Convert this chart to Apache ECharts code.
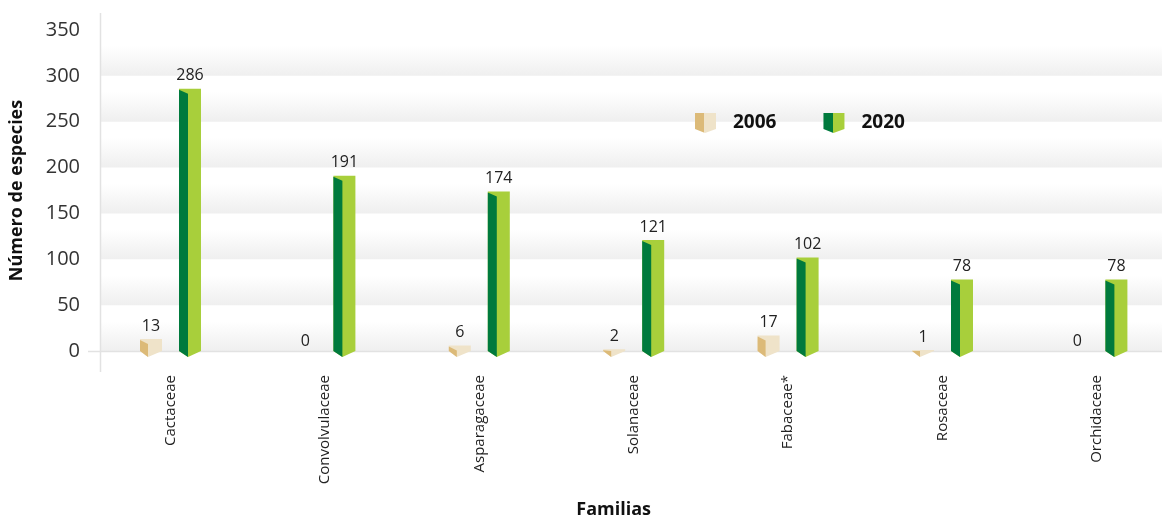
<!DOCTYPE html>
<html>
<head>
<meta charset="utf-8">
<script src="https://cdn.jsdelivr.net/npm/echarts@6/dist/echarts.min.js"></script>
<style>
html,body{margin:0;padding:0;background:#fff;}
#c{width:1162px;height:515px;}
</style>
</head>
<body>
<div id="c"></div>
<script>
const categories = ['Cactaceae','Convolvulaceae','Asparagaceae','Solanaceae','Fabaceae*','Rosaceae','Orchidaceae'];
const values2006 = [13, 0, 6, 2, 17, 1, 0];
const values2020 = [286, 191, 174, 121, 102, 78, 78];
const seriesNames = ['2006', '2020'];
const yTicks = [0, 50, 100, 150, 200, 250, 300, 350];

const FONT = '"Open Sans", sans-serif';
const C2006 = { dark: '#dcba78', light: '#efe3c9' };
const C2020 = { dark: '#007a3d', light: '#a8cf3b' };

function faceGradient(c) {
  return new echarts.graphic.LinearGradient(0, 0, 1, 0, [
    { offset: 0, color: c.dark }, { offset: 0.45, color: c.dark },
    { offset: 0.45, color: c.light }, { offset: 1, color: c.light }
  ]);
}

function makeRender(offset, colors, darkW) {
  return function (params, api) {
    const i = api.value(0), v = api.value(1);
    const top = api.coord([i, v]);
    const base = api.coord([i, 0]);
    const w = 22, d = 6;
    const cx = top[0] + offset;
    const x0 = cx - w / 2, x1 = cx + w / 2, xm = x0 + darkW;
    const yT = top[1], yB = base[1];
    const h = yB - yT;
    const children = [];
    if (v > 0) {
      const s1 = Math.min(1, h), s2 = Math.min(5, h);
      children.push({
        type: 'polygon',
        shape: { points: [[x0, yT], [x1, yT], [x1, yB], [xm, yB + d], [x0, yB]] },
        style: { fill: colors.light }
      });
      children.push({
        type: 'polygon',
        shape: { points: [[x0, yT + s1], [xm, yT + s2], [xm, yB + d], [x0, yB]] },
        style: { fill: colors.dark }
      });
    }
    children.push({
      type: 'text',
      style: {
        text: String(v), x: cx, y: yT - (v > 0 ? 5 : 2),
        align: 'center', verticalAlign: 'bottom',
        fill: '#222', font: '16px ' + FONT
      }
    });
    return { type: 'group', children: children };
  };
}

const bandGrad = new echarts.graphic.LinearGradient(0, 0, 0, 1, [
  { offset: 0, color: '#ffffff' }, { offset: 0.35, color: '#ffffff' }, { offset: 1, color: '#efefef' }
]);

const chart = echarts.init(document.getElementById('c'), null, { renderer: 'canvas' });
chart.setOption({
  animation: false,
  textStyle: { fontFamily: FONT },
  grid: [
    { left: 100, right: 0, top: 30, bottom: 164, containLabel: false, outerBoundsMode: 'none' },
    { left: 93.3, width: 1080.8, top: 30, bottom: 164, containLabel: false, outerBoundsMode: 'none' }
  ],
  xAxis: [
    { gridIndex: 0, type: 'value', min: 0, max: 1, show: false },
    {
      gridIndex: 1, type: 'category', data: categories,
      axisLine: { show: false }, axisTick: { show: false },
      axisLabel: { rotate: 90, fontSize: 15, color: '#222', margin: 24, fontFamily: FONT, interval: 0 },
      name: 'Familias', nameLocation: 'middle', nameGap: 150,
      nameTextStyle: { fontSize: 18, fontWeight: 'bold', color: '#111', fontFamily: FONT, padding: [0, 40, 0, 0] }
    }
  ],
  yAxis: [
    {
      gridIndex: 0, type: 'value', min: 0, max: 350, interval: 50,
      axisLine: { show: false }, axisTick: { show: false },
      splitLine: { show: false },
      splitArea: { show: true, areaStyle: { color: [bandGrad] } },
      axisLabel: { fontSize: 20, color: '#333', margin: 20, fontFamily: FONT,
        formatter: function (val) { return yTicks.indexOf(val) >= 0 ? String(val) : ''; } },
      name: 'Número de especies', nameLocation: 'middle', nameGap: 74, nameRotate: 90,
      nameTextStyle: { fontSize: 18, fontWeight: 'bold', color: '#111', fontFamily: FONT }
    },
    { gridIndex: 1, type: 'value', min: 0, max: 350, show: false }
  ],
  legend: {
    left: 695, top: 113, padding: 0,
    itemWidth: 21, itemHeight: 20, itemGap: 47,
    textStyle: { fontSize: 19, fontWeight: 'bold', color: '#111', fontFamily: FONT, padding: [0, 0, 0, 12] },
    data: [
      { name: seriesNames[0], icon: 'path://M0,0L21,0L21,16L10,20L0,16Z', itemStyle: { color: faceGradient(C2006) } },
      { name: seriesNames[1], icon: 'path://M0,0L21,0L21,16L10,20L0,16Z', itemStyle: { color: faceGradient(C2020) } }
    ]
  },
  graphic: [
    { type: 'line', z: 1, shape: { x1: 100.5, y1: 13, x2: 100.5, y2: 372 }, style: { stroke: '#e2e2e2', lineWidth: 1.5 } },
    { type: 'line', z: 1, shape: { x1: 88, y1: 351.5, x2: 1162, y2: 351.5 }, style: { stroke: '#e2e2e2', lineWidth: 1.5 } }
  ],
  series: [
    {
      name: seriesNames[0], type: 'custom', xAxisIndex: 1, yAxisIndex: 1, z: 3,
      itemStyle: { color: faceGradient(C2006) },
      renderItem: makeRender(-19.5, C2006, 8),
      encode: { x: 0, y: 1 },
      data: values2006.map((v, i) => [i, v]),
      clip: false
    },
    {
      name: seriesNames[1], type: 'custom', xAxisIndex: 1, yAxisIndex: 1, z: 3,
      itemStyle: { color: faceGradient(C2020) },
      renderItem: makeRender(19.5, C2020, 9),
      encode: { x: 0, y: 1 },
      data: values2020.map((v, i) => [i, v]),
      clip: false
    }
  ]
});
</script>
</body>
</html>
